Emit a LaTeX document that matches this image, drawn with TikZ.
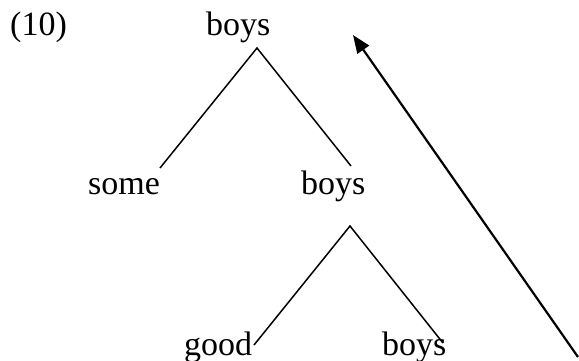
\documentclass[tikz,border=0pt]{standalone}
\usepackage{fontspec}
\setmainfont{Liberation Serif}
\usetikzlibrary{arrows.meta}
\begin{document}
\begin{tikzpicture}[x=1pt,y=-1pt,
  word/.style={anchor=base west,inner sep=0pt,font=\fontsize{34}{40}\selectfont},
  branch/.style={line width=1.5pt},
  move/.style={line width=2.2pt,-{Triangle[length=18pt,width=14pt]}}]
\path[use as bounding box] (0,0) rectangle (579,360);
\node[word] (ex) at (10,35) {(10)};
\node[word] (top) at (206,35) {boys};
\node[word] (some) at (88,194) {some};
\node[word] (mid) at (301,194) {boys};
\node[word] (good) at (184,355) {good};
\node[word] (bot) at (382,355) {boys};
\coordinate (a1) at (257,48);
\coordinate (l1) at (160,168);
\coordinate (r1) at (351,166);
\coordinate (a2) at (350,226);
\coordinate (l2) at (254,345);
\coordinate (r2) at (443,343);
\coordinate (tail) at (578,357);
\coordinate (head) at (353,35);
\draw[branch] (l1) -- (a1) -- (r1);
\draw[branch] (l2) -- (a2) -- (r2);
\draw[move] (tail) -- (head);
\end{tikzpicture}
\end{document}
